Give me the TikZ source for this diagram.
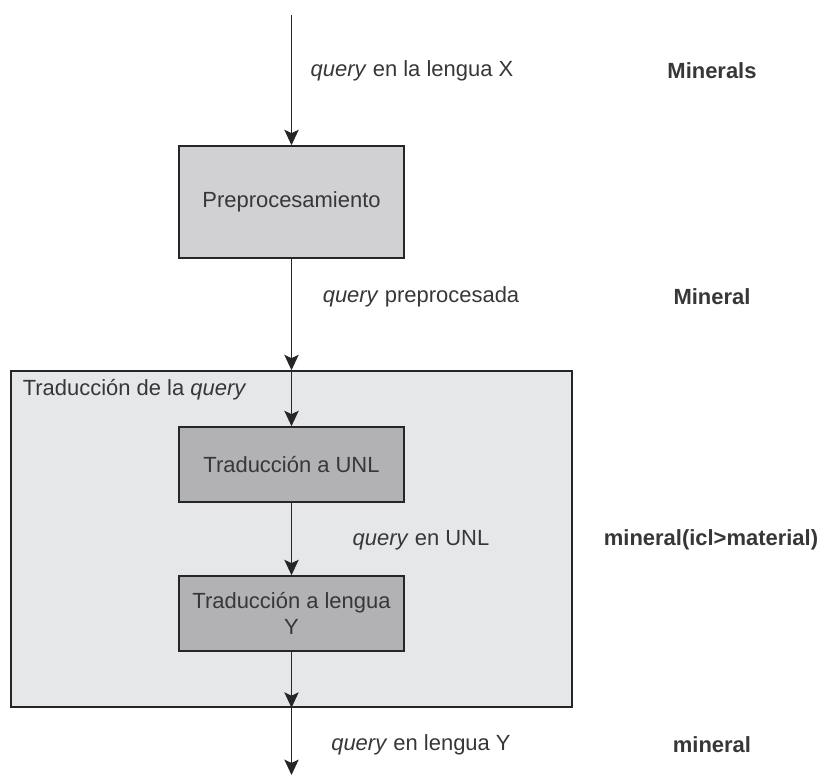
\documentclass[tikz,border=0pt]{standalone}
\usepackage{fontspec}
\setmainfont{Liberation Sans}
\usepackage{xcolor}
\usetikzlibrary{arrows.meta}
\definecolor{boxlight}{RGB}{209,209,211}
\definecolor{boxdark}{RGB}{178,178,180}
\definecolor{boxframe}{RGB}{230,231,233}
\definecolor{inkgray}{RGB}{55,55,55}
\begin{document}
\begin{tikzpicture}[x=0.016cm,y=-0.016cm,
    every node/.style={font=\fontsize{10}{12}\selectfont,text=inkgray},
    flow/.style={draw=black!85,line width=0.75pt,-{Stealth[length=7pt,width=6.5pt,inset=1.5pt]}},
    procbox/.style={draw=black!85,line width=0.75pt,minimum width=3.6cm,align=center,inner sep=2pt},
    example/.style={font=\fontsize{10}{12}\selectfont\bfseries}]
   \useasboundingbox (0,0) rectangle (824,775);
   \node[draw=black!85,line width=0.75pt,fill=boxframe,minimum width=8.976cm,minimum height=5.376cm] (frame) at (291.5,539) {};
   \node[anchor=west] (frametitle) at (15,390) {Traducción de la \textit{query}};
   \node[procbox,fill=boxlight,minimum height=1.792cm] (prep) at (291.5,202) {Preprocesamiento};
   \node[procbox,fill=boxdark,minimum height=1.2cm] (unl) at (291.5,464.5) {Traducción a UNL};
   \node[procbox,fill=boxdark,minimum height=1.2cm] (leng) at (291.5,613.5) {Traducción a lengua\\Y};
   \coordinate (in) at (291.5,15);
   \coordinate (out) at (291.5,775);
   \draw[flow] (in) -- (prep.north);
   \draw[flow] (prep.south) -- (frame.north);
   \draw[flow] (frame.north) -- (unl.north);
   \draw[flow] (unl.south) -- (leng.north);
   \draw[flow] (leng.south) -- (frame.south);
   \draw[flow] (frame.south) -- (out);
   \node (q1) at (412,71) {\textit{query} en la lengua X};
   \node (q2) at (421,297) {\textit{query} preprocesada};
   \node (q3) at (421,540) {\textit{query} en UNL};
   \node (q4) at (421,745) {\textit{query} en lengua Y};
   \node[example] (e1) at (712,71) {Minerals};
   \node[example] (e2) at (712,297) {Mineral};
   \node[example] (e3) at (711,540) {mineral(icl>material)};
   \node[example] (e4) at (712,745) {mineral};
\end{tikzpicture}
\end{document}
